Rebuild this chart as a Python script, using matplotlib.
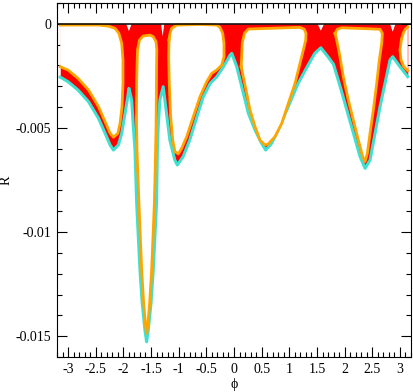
import numpy as np
import matplotlib
matplotlib.use("Agg")
from matplotlib import pyplot as plt
from matplotlib.ticker import MultipleLocator

plt.rcParams['font.family'] = ['Liberation Serif', 'DejaVu Serif']

# lower envelope of R(phi), values in units of 1e-3
phi_low = [-3.1416, -3.00, -2.82, -2.63, -2.45, -2.33, -2.24, -2.18, -2.09, -2.03,
           -1.97, -1.92, -1.90, -1.85, -1.82, -1.79, -1.76, -1.73, -1.70, -1.66,
           -1.61, -1.58, -1.55, -1.50, -1.46, -1.43, -1.40, -1.385, -1.37, -1.34,
           -1.28, -1.25, -1.16, -1.07, -1.025, -0.92, -0.80, -0.67, -0.555, -0.43,
           -0.31, -0.19, -0.07, -0.04, 0.05, 0.17, 0.26, 0.38, 0.50, 0.573,
           0.68, 0.80, 0.98, 1.16, 1.34, 1.46, 1.57, 1.71, 1.80, 1.92,
           2.04, 2.16, 2.28, 2.37, 2.46, 2.55, 2.64, 2.73, 2.82, 2.87,
           3.00, 3.1416]
R_low = [-2.56, -2.78, -3.18, -3.74, -4.54, -5.26, -5.82, -6.06, -5.82, -5.26,
         -4.30, -3.50, -3.10, -3.66, -4.94, -6.06, -8.61, -10.23, -11.83, -13.41,
         -14.71, -15.27, -14.71, -13.41, -11.83, -10.23, -8.61, -6.06, -4.94, -3.66,
         -3.02, -3.66, -5.58, -6.54, -6.78, -6.38, -5.58, -4.46, -3.50, -2.86,
         -2.54, -2.06, -1.50, -1.42, -2.06, -3.34, -4.30, -5.10, -5.74, -6.06,
         -5.74, -5.10, -3.98, -2.86, -1.98, -1.42, -1.15, -1.62, -1.95, -3.02,
         -4.14, -5.26, -6.38, -6.94, -6.54, -5.26, -3.98, -2.86, -1.74, -1.58,
         -2.06, -2.54]

# empty regions inside the band, outlined in orange
gap1a_phi = [-3.1416, -2.45, -2.27, -2.15, -2.08, -2.03, -2.007, -2.007, -2.025, -2.06,
             -2.10, -2.18, -2.24, -2.33, -2.45, -2.63, -2.82, -3.00, -3.1416]
gap1a_R = [-0.06, -0.06, -0.11, -0.22, -0.46, -0.94, -1.74, -2.86, -3.98, -4.78,
           -5.26, -5.45, -5.26, -4.70, -3.98, -3.18, -2.62, -2.22, -2.06]

gap1b_phi = [3.1416, 3.10, 3.07, 3.03, 3.00, 3.02, 3.07, 3.1416]
gap1b_R = [-0.15, -0.25, -0.38, -0.70, -1.26, -1.74, -2.06, -2.25]

gap2_phi = [-1.741, -1.754, -1.763, -1.759, -1.745, -1.709, -1.646, -1.519, -1.459, -1.41,
            -1.395, -1.40, -1.405, -1.41, -1.425, -1.44, -1.464, -1.489, -1.525, -1.561,
            -1.579, -1.597, -1.633, -1.669, -1.694, -1.718, -1.741]
gap2_R = [-7.02, -6.06, -4.62, -2.70, -1.26, -0.78, -0.59, -0.54, -0.62, -0.86,
          -1.26, -2.07, -3.66, -5.10, -7.02, -8.62, -10.23, -11.83, -13.42, -14.55,
          -14.87, -14.55, -13.42, -11.83, -10.23, -8.62, -7.02]

gap3_phi = [-1.175, -1.157, -1.127, -1.067, -1.036, -0.615, -0.313, -0.253, -0.204, -0.181,
            -0.181, -0.222, -0.313, -0.403, -0.494, -0.615, -0.736, -0.855, -0.946, -1.007,
            -1.067, -1.108, -1.145, -1.170, -1.181, -1.175]
gap3_R = [-0.78, -0.46, -0.22, -0.11, -0.06, -0.03, -0.06, -0.17, -0.46, -0.94,
          -1.58, -1.98, -2.22, -2.38, -2.78, -3.50, -4.46, -5.42, -5.98, -6.25,
          -6.14, -5.58, -4.46, -2.86, -1.58, -0.78]

gap4_phi = [0.13, 0.14, 0.15, 0.19, 0.26, 1.19, 1.271, 1.302, 1.297, 1.253,
            1.193, 1.103, 0.982, 0.863, 0.74, 0.62, 0.56, 0.47, 0.38, 0.289,
            0.23, 0.13]
gap4_R = [-2.06, -1.50, -0.90, -0.45, -0.25, -0.17, -0.26, -0.46, -0.78, -1.26,
          -1.90, -2.86, -3.82, -4.78, -5.42, -5.77, -5.82, -5.58, -4.94, -4.14,
          -3.34, -2.06]

gap5_phi = [1.826, 1.868, 1.948, 2.640, 2.682, 2.671, 2.627, 2.580, 2.519, 2.459,
            2.411, 2.369, 2.327, 2.248, 2.157, 2.067, 1.976, 1.904, 1.857, 1.826]
gap5_R = [-0.46, -0.26, -0.19, -0.26, -0.46, -0.94, -1.74, -2.86, -4.14, -5.26,
          -6.22, -6.62, -6.38, -5.58, -4.62, -3.66, -2.54, -1.42, -0.78, -0.46]

# small notches at the top of the red necks
notch_phi = [-1.90, -1.29, 1.57, 2.87]
notch_depth = [0.35, 0.60, 0.33, 0.38]
notch_half = [0.05, 0.03, 0.06, 0.05]

closed_gaps = [(gap2_phi, gap2_R), (gap3_phi, gap3_R), (gap4_phi, gap4_R), (gap5_phi, gap5_R)]
open_gaps = [(gap1a_phi, gap1a_R), (gap1b_phi, gap1b_R)]

x_ticks = [-3, -2.5, -2, -1.5, -1, -0.5, 0, 0.5, 1, 1.5, 2, 2.5, 3]
x_labels = ['-3', '-2.5', '-2', '-1.5', '-1', '-0.5', '0', '0.5', '1', '1.5', '2', '2.5', '3']
y_ticks = [0, -0.005, -0.01, -0.015]
y_labels = ['0', '-0.005', '-0.01', '-0.015']

s = 1e-3
fig = plt.figure(figsize=(4.14, 3.92), dpi=100)
ax = fig.add_axes([57/414, 1-357/392, 354/414, 354/392])

ax.fill_between(phi_low, 0, np.array(R_low)*s, color='red', lw=0, zorder=1)
ax.plot(phi_low, np.array(R_low)*s, color='turquoise', lw=2.2, zorder=2)

for p, r in closed_gaps + open_gaps:
    ax.fill(p, np.array(r)*s, color='white', lw=0, zorder=3)
for p, r in closed_gaps + open_gaps:
    ax.plot(p, np.array(r)*s, color='orange', lw=2.0, zorder=4)

for p, d, h in zip(notch_phi, notch_depth, notch_half):
    ax.fill([p - h, p, p + h], [0, -d*s, 0], color='white', lw=0, zorder=3)

ax.axhline(0, color='black', lw=1.1, zorder=5)

ax.set_xlim(-3.2, 3.2)
ax.set_ylim(-0.016, 0.001)
ax.set_xticks(x_ticks)
ax.set_xticklabels(x_labels)
ax.set_yticks(y_ticks)
ax.set_yticklabels(y_labels)
ax.xaxis.set_minor_locator(MultipleLocator(0.1))
ax.yaxis.set_minor_locator(MultipleLocator(0.001))
ax.tick_params(which='both', direction='in', top=True, right=True, labelsize=10, width=0.8)
ax.tick_params(which='major', length=7, pad=4)
ax.tick_params(which='minor', length=3.5)
for sp in ax.spines.values():
    sp.set_linewidth(0.8)

ax.set_xlabel('\u03d5', fontsize=10, labelpad=2)
ax.set_ylabel('R', fontsize=10)
ax.yaxis.set_label_coords(-0.125, 0.5)

fig.savefig('out.png', dpi=100)
